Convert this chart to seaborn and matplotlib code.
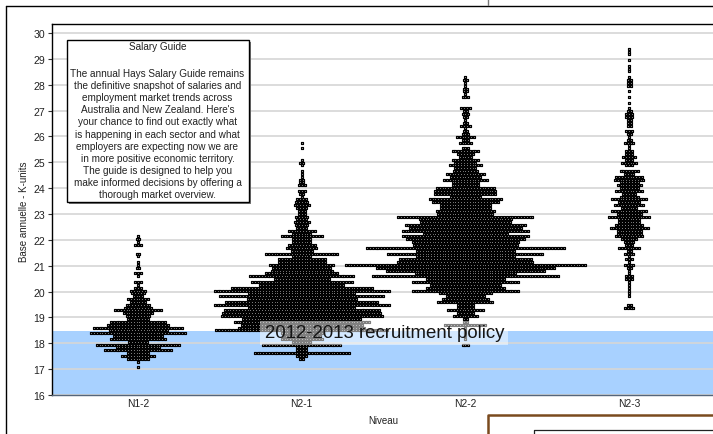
import matplotlib
matplotlib.use("Agg")
import matplotlib.pyplot as plt
from matplotlib.lines import Line2D
from matplotlib.patches import Rectangle
import seaborn as sns
import numpy as np
import pandas as pd

categories = ["N1-2", "N2-1", "N2-2", "N2-3"]
y_ticks = [16, 17, 18, 19, 20, 21, 22, 23, 24, 25, 26, 27, 28, 29, 30]

# salary rows of the swarm, top to bottom
levels = [29.39, 29.28, 29.17, 29.06, 28.95, 28.84, 28.73, 28.62, 28.51, 28.40,
          28.29, 28.18, 28.07, 27.96, 27.85, 27.74, 27.63, 27.52, 27.41, 27.30,
          27.19, 27.08, 26.97, 26.86, 26.75, 26.64, 26.53, 26.42, 26.31, 26.20,
          26.09, 25.98, 25.87, 25.76, 25.65, 25.54, 25.43, 25.32, 25.21, 25.10,
          24.99, 24.88, 24.77, 24.66, 24.55, 24.44, 24.33, 24.22, 24.11, 24.00,
          23.89, 23.78, 23.67, 23.56, 23.45, 23.34, 23.23, 23.12, 23.01, 22.90,
          22.79, 22.68, 22.57, 22.46, 22.35, 22.24, 22.13, 22.02, 21.91, 21.80,
          21.69, 21.58, 21.47, 21.36, 21.25, 21.14, 21.03, 20.92, 20.81, 20.70,
          20.59, 20.48, 20.37, 20.26, 20.15, 20.04, 19.93, 19.82, 19.71, 19.60,
          19.49, 19.38, 19.27, 19.16, 19.05, 18.94, 18.83, 18.72, 18.61, 18.50,
          18.39, 18.28, 18.17, 18.06, 17.95, 17.84, 17.73, 17.62, 17.51, 17.40,
          17.29, 17.18, 17.07]

# number of people on each row
n1_2 = [0] * 66 + [1, 2, 1, 3, 0, 0, 2, 1, 0, 1, 1, 2, 0, 3, 1, 0, 3, 1, 3, 6, 5, 4, 8, 6,
                   9, 10, 17, 11, 9, 8, 20, 22, 32, 21, 34, 18, 20, 7, 30, 16, 24, 8, 12, 8, 1, 0, 1]
n2_1 = [0] * 33 + [1, 0, 1, 0, 0, 0, 1, 2, 1, 0, 1, 1, 1, 2, 2, 3, 0, 3, 2, 1, 4, 5, 6, 4, 3, 3,
                   5, 4, 6, 5, 4, 10, 7, 15, 7, 7, 10, 11, 8, 26, 7, 17, 17, 23, 21, 22, 26, 37, 20,
                   36, 30, 50, 62, 38, 58, 39, 54, 62, 38, 55, 56, 57, 42, 48, 43, 45, 61, 15, 14,
                   15, 7, 28, 4, 4, 34, 4, 2] + [0] * 3
n2_2 = [0] * 10 + [1, 2, 1, 1, 2, 2, 1, 3, 0, 0, 0, 4, 2, 3, 2, 1, 2, 4, 1, 2, 3, 7, 3, 5, 0, 3,
                   10, 6, 5, 10, 8, 12, 8, 9, 14, 11, 16, 10, 10, 21, 22, 22, 11, 26, 24, 18, 18, 21,
                   20, 48, 33, 32, 43, 40, 45, 30, 45, 42, 38, 37, 70, 35, 55, 35, 47, 48, 85, 63,
                   56, 36, 66, 28, 38, 25, 28, 38, 19, 14, 17, 20, 6, 6, 13, 6, 9, 2, 2, 15, 1, 1,
                   1, 1, 1, 0, 3] + [0] * 8
n2_3 = [1, 1, 1, 0, 1, 0, 1, 1, 1, 0, 1, 2, 2, 2, 0, 1, 0, 1, 0, 1, 0, 1, 2, 3, 3, 2, 2, 2, 0, 3,
        2, 1, 2, 4, 1, 1, 3, 3, 5, 3, 6, 3, 0, 7, 4, 10, 11, 7, 9, 7, 10, 5, 7, 13, 8, 11, 6, 13, 9,
        15, 8, 8, 10, 14, 9, 9, 10, 6, 4, 3, 8, 2, 4, 1, 3, 1, 4, 2, 1, 1, 3, 3, 1, 1, 1, 1, 1, 1,
        0, 0, 2, 4] + [0] * 21

guide_title = "Salary Guide"
guide_text = ("The annual Hays Salary Guide remains\n"
              "the definitive snapshot of salaries and\n"
              "employment market trends across\n"
              "Australia and New Zealand. Here's\n"
              "your chance to find out exactly what\n"
              "is happening in each sector and what\n"
              "employers are expecting now we are\n"
              "in more positive economic territory.\n"
              "The guide is designed to help you\n"
              "make informed decisions by offering a\n"
              "thorough market overview.")

W, H = 713, 435
DOT_STEP = 2.85 / 163.7  # one dot in category units

rows = []
for cat_pos, counts in enumerate([n1_2, n2_1, n2_2, n2_3]):
    for level, n in zip(levels, counts, strict=True):
        for j in range(n):
            rows.append({"pos": cat_pos + (j - (n - 1) / 2) * DOT_STEP, "salary": level})
df = pd.DataFrame(rows)

sns.set_theme(style="white")
plt.rcParams["font.family"] = ["Liberation Sans", "DejaVu Sans"]

fig = plt.figure(figsize=(W / 100, H / 100), dpi=100)
ax = fig.add_axes([52 / W, 1 - 396 / H, (W - 52) / W, (396 - 25) / H])


def px_box(x, y, w, h, **kw):
    # rectangle in figure pixels, y measured from the top
    return Rectangle((x / W, 1 - (y + h) / H), w / W, h / H, transform=fig.transFigure, **kw)


def px_line(xs, ys, **kw):
    fig.add_artist(Line2D([x / W for x in xs], [1 - y / H for y in ys], **kw))


ax.axhspan(16, 18.48, color="#A8D1FF", lw=0, zorder=0)
ax.set_axisbelow(False)
ax.yaxis.grid(True, color="#d6d6d6", lw=1.2, zorder=1)
ax.xaxis.grid(False)

sns.scatterplot(data=df, x="pos", y="salary", marker="s", s=1.7, color="#b8b8b8",
                edgecolor="black", linewidth=0.85, ax=ax, zorder=3, legend=False)

ax.set_xlim((52 - 138) / 163.7, (W - 138) / 163.7)
ax.set_ylim(16, 16 + (396 - 25) / 25.86)
ax.set_xticks(range(len(categories)))
ax.set_xticklabels(categories, fontsize=7.4, color="#222222")
ax.set_yticks(y_ticks)
ax.tick_params(axis="y", length=3, width=0.8, color="#333333", labelsize=7.6,
               labelcolor="#222222", pad=2, left=True)
ax.tick_params(axis="x", length=0, pad=2)
ax.set_xlabel("")
ax.set_ylabel("")

ax.spines["right"].set_visible(False)
ax.spines["top"].set_color("black")
ax.spines["left"].set_color("black")
ax.spines["bottom"].set_color("#55657a")
for side in ["top", "left", "bottom"]:
    ax.spines[side].set_linewidth(1.0)
    ax.spines[side].set_zorder(5)

fig.text(24 / W, 1 - 212 / H, "Base annuelle - K-units", rotation=90, fontsize=7,
         ha="center", va="center", color="#222222")
fig.text(383 / W, 1 - 421 / H, "Niveau", fontsize=7, ha="center", va="center", color="#222222")

# outer frame and the bits of other panels around the chart
px_line([5.5, 5.5], [435, 6.5], color="black", lw=1)
px_line([5.5, 713], [6.5, 6.5], color="black", lw=1)
px_line([487.5, 487.5], [0, 6], color="#777777", lw=1)
px_line([488, 488, 713], [435, 416, 416], color="#7a4a1e", lw=1.8)
px_line([533.5, 533.5, 713], [435, 430.5, 430.5], color="#222222", lw=0.9)

# policy label over the band
fig.add_artist(px_box(260, 322, 248, 24, facecolor="white", alpha=0.5, lw=0, zorder=6))
fig.text(385 / W, 1 - 334 / H, "2012-2013 recruitment policy", fontsize=13.4, ha="center",
         va="center", color="#151515", zorder=7)

# info box with its shadow
fig.add_artist(px_box(69, 43, 182, 162, facecolor="#777777", lw=0, zorder=6))
fig.add_artist(px_box(67, 41, 182, 162, facecolor="white", edgecolor="black", lw=1, zorder=7))
fig.text(157.5 / W, 1 - 47.5 / H, guide_title, fontsize=7.2, ha="center", va="center",
         color="#222222", zorder=8)
fig.text(157.5 / W, 1 - 134.5 / H, guide_text, fontsize=7.2, ha="center", va="center",
         color="#222222", linespacing=1.27, zorder=8)

fig.savefig("out.png", dpi=100)
